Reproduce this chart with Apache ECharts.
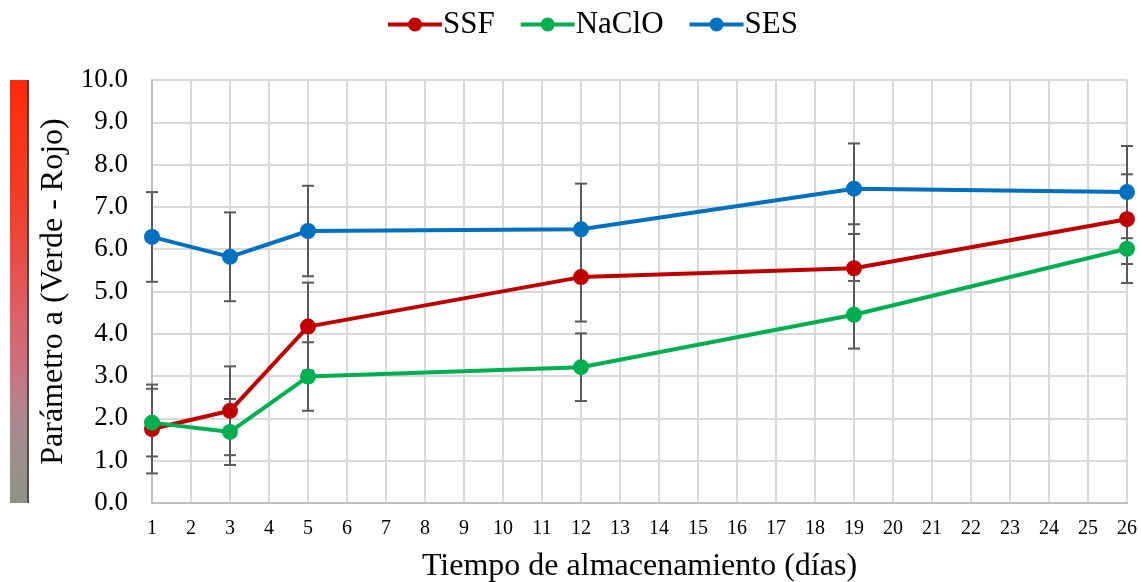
<!DOCTYPE html>
<html>
<head>
<meta charset="utf-8">
<script src="https://cdn.jsdelivr.net/npm/echarts@6/dist/echarts.min.js"></script>
<style>html,body{margin:0;padding:0;background:#fff;}#c{width:1141px;height:582px;}</style>
</head>
<body>
<div id="c"></div>
<script>
var days = [1, 3, 5, 12, 19, 26];
var ssf = [1.75, 2.18, 4.17, 5.34, 5.55, 6.71];
var naclo = [1.90, 1.68, 2.99, 3.21, 4.45, 6.01];
var ses = [6.29, 5.82, 6.43, 6.47, 7.43, 7.35];
var ssfErr = [1.05, 1.05, 1.04, 1.05, 1.04, 1.06];
var nacloErr = [0.80, 0.78, 0.81, 0.80, 0.80, 0.81];
var sesErr = [1.06, 1.05, 1.07, 1.08, 1.07, 1.09];
var seriesNames = ['SSF', 'NaClO', 'SES'];
var colors = ['#C00000', '#00B050', '#0070C0'];

var FONT = '"Liberation Serif", "Times New Roman", serif';
var chart = echarts.init(document.getElementById('c'));

function pairs(vals) { return days.map(function (d, i) { return [d, vals[i]]; }); }
function errData(vals, errs) { return days.map(function (d, i) { return [d, vals[i] - errs[i], vals[i] + errs[i]]; }); }

function errSeries(name, vals, errs) {
  return {
    type: 'custom', name: name + ' err', z: 1,
    data: errData(vals, errs),
    renderItem: function (params, api) {
      var x = api.value(0);
      var lo = api.coord([x, api.value(1)]);
      var hi = api.coord([x, api.value(2)]);
      var w = 6;
      var st = { stroke: '#595959', lineWidth: 2 };
      return { type: 'group', children: [
        { type: 'line', shape: { x1: lo[0], y1: lo[1], x2: hi[0], y2: hi[1] }, style: st },
        { type: 'line', shape: { x1: lo[0] - w, y1: lo[1], x2: lo[0] + w, y2: lo[1] }, style: st },
        { type: 'line', shape: { x1: hi[0] - w, y1: hi[1], x2: hi[0] + w, y2: hi[1] }, style: st }
      ]};
    },
    silent: true, animation: false
  };
}

function lineSeries(name, vals, color) {
  return {
    type: 'line', name: name, z: 3,
    data: pairs(vals),
    symbol: 'circle', symbolSize: 16,
    lineStyle: { color: color, width: 4 },
    itemStyle: { color: color },
    animation: false
  };
}

var legendIcon = 'path://M0,5 L54,5 L54,9 L0,9 Z M20,7 A7,7 0 1,1 34,7 A7,7 0 1,1 20,7 Z';

var option = {
  backgroundColor: '#fff',
  animation: false,
  graphic: [
    { type: 'rect', left: 10, top: 80, shape: { width: 19, height: 423 },
      style: { fill: new echarts.graphic.LinearGradient(0, 0, 0, 1, [
        { offset: 0, color: '#FF2A0A' },
        { offset: 0.3, color: '#F23E2A' },
        { offset: 0.5, color: '#E2585A' },
        { offset: 0.68, color: '#CC7282' },
        { offset: 0.82, color: '#A88A92' },
        { offset: 1, color: '#8C9486' }
      ]) } },
    { type: 'rect', left: 27, top: 80, shape: { width: 2, height: 423 },
      style: { fill: '#4A3A30', opacity: 0.8 } }
  ],
  legend: {
    data: seriesNames.map(function (n) { return { name: n, icon: legendIcon }; }),
    left: 383, top: 4,
    itemWidth: 54, itemHeight: 14, itemGap: 26,
    textStyle: { fontFamily: FONT, fontSize: 31, color: '#000', padding: [0, 0, 0, -4] }
  },
  grid: { left: 152, right: 14, top: 80, bottom: 79, containLabel: false, outerBoundsMode: 'none' },
  xAxis: {
    type: 'value', min: 1, max: 26, interval: 1,
    name: 'Tiempo de almacenamiento (días)', nameLocation: 'middle', nameGap: 48,
    nameTextStyle: { fontFamily: FONT, fontSize: 32, color: '#000' },
    axisLine: { show: true, lineStyle: { color: '#BFBFBF', width: 2 } },
    axisTick: { show: false },
    axisLabel: { fontFamily: FONT, fontSize: 20, color: '#000', margin: 16 },
    splitLine: { show: true, lineStyle: { color: '#D9D9D9', width: 2 } }
  },
  yAxis: {
    type: 'value', min: 0, max: 10, interval: 1,
    name: 'Parámetro a (Verde - Rojo)', nameLocation: 'middle', nameGap: 78,
    nameTextStyle: { fontFamily: FONT, fontSize: 32, color: '#000' },
    axisLine: { show: true, lineStyle: { color: '#BFBFBF', width: 2 } },
    axisTick: { show: false },
    axisLabel: { fontFamily: FONT, fontSize: 27, color: '#000', margin: 24,
      formatter: function (v) { return v.toFixed(1); } },
    splitLine: { show: true, lineStyle: { color: '#D9D9D9', width: 2 } }
  },
  series: [
    errSeries('SSF', ssf, ssfErr),
    errSeries('NaClO', naclo, nacloErr),
    errSeries('SES', ses, sesErr),
    lineSeries('SSF', ssf, colors[0]),
    lineSeries('NaClO', naclo, colors[1]),
    lineSeries('SES', ses, colors[2])
  ]
};
chart.setOption(option);
</script>
</body>
</html>
